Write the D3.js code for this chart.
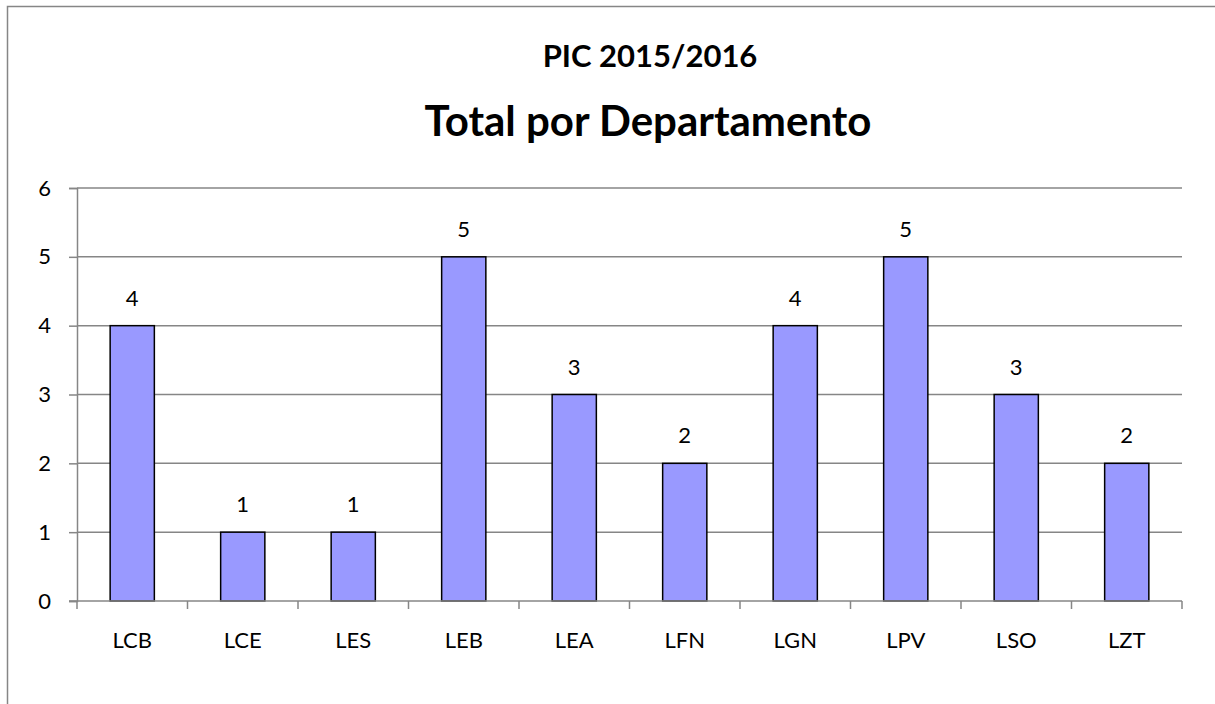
<html>
<head>
  <meta charset="UTF-8">
  <title>PIC 2015/2016</title>
  <script src="https://d3js.org/d3.v7.min.js"></script>
  <style>
    body { margin: 0; background: #fff; }
    text { font-family: Lato, "Open Sans", sans-serif; fill: #000; }
  </style>
</head>
<body>
  <svg id="chart" width="1215" height="704"></svg>

  <script>
    // data
    const departamentos = ["LCB", "LCE", "LES", "LEB", "LEA", "LFN", "LGN", "LPV", "LSO", "LZT"];
    const totais = [4, 1, 1, 5, 3, 2, 4, 5, 3, 2];
    const yTicks = [0, 1, 2, 3, 4, 5, 6];
    const titulo1 = "PIC 2015/2016";
    const titulo2 = "Total por Departamento";

    const svg = d3.select("#chart");
    const gridColor = "#868686";

    // outer frame (only top and left edges are visible)
    svg.append("rect")
        .attr("x", 7.5).attr("y", 6.5)
        .attr("width", 1400).attr("height", 900)
        .attr("fill", "none")
        .attr("stroke", gridColor)
        .attr("stroke-width", 1.5);

    const plotLeft = 77, plotRight = 1182, plotTop = 188, plotBottom = 601;

    const x = d3.scaleBand()
                .domain(departamentos)
                .range([plotLeft, plotRight])
                .paddingInner(0.6)
                .paddingOuter(0.3);

    const y = d3.scaleLinear()
                .domain([0, 6])
                .range([plotBottom, plotTop]);

    // titles
    svg.append("text")
        .attr("x", 650).attr("y", 67)
        .attr("text-anchor", "middle")
        .attr("font-weight", "bold")
        .attr("font-size", 31)
        .text(titulo1);

    svg.append("text")
        .attr("x", 648).attr("y", 136)
        .attr("text-anchor", "middle")
        .attr("font-weight", "bold")
        .attr("font-size", 42)
        .text(titulo2);

    // gridlines
    svg.append("g")
        .selectAll("line")
        .data(yTicks.filter(d => d > 0))
        .join("line")
        .attr("x1", plotLeft).attr("x2", plotRight)
        .attr("y1", d => y(d)).attr("y2", d => y(d))
        .attr("stroke", gridColor)
        .attr("stroke-width", 1.5);

    // y axis
    const yAxis = svg.append("g")
        .attr("transform", `translate(${plotLeft},0)`)
        .call(d3.axisLeft(y).tickValues(yTicks).tickSize(8).tickPadding(18).tickFormat(d3.format("d")));
    yAxis.select(".domain").attr("stroke", gridColor).attr("stroke-width", 1.5);
    yAxis.selectAll(".tick line").attr("stroke", gridColor).attr("stroke-width", 1.5);
    yAxis.selectAll(".tick text").attr("font-size", 22).attr("font-family", "Lato, sans-serif").attr("fill", "#000");

    // bars
    svg.append("g")
        .selectAll("rect")
        .data(totais)
        .join("rect")
        .attr("x", (d, i) => x(departamentos[i]))
        .attr("y", d => y(d))
        .attr("width", x.bandwidth())
        .attr("height", d => y(0) - y(d))
        .attr("fill", "#9999ff")
        .attr("stroke", "#000")
        .attr("stroke-width", 1.5);

    // x axis with ticks between categories
    const step = x.step();
    const bounds = d3.range(departamentos.length + 1).map(i => plotLeft + i * step);
    const xAxis = svg.append("g");
    xAxis.append("line")
        .attr("x1", plotLeft - 8).attr("x2", plotRight)
        .attr("y1", plotBottom).attr("y2", plotBottom)
        .attr("stroke", gridColor).attr("stroke-width", 1.5);
    xAxis.selectAll("line.tick")
        .data(bounds)
        .join("line")
        .attr("class", "tick")
        .attr("x1", d => d).attr("x2", d => d)
        .attr("y1", plotBottom).attr("y2", plotBottom + 8)
        .attr("stroke", gridColor).attr("stroke-width", 1.5);
    xAxis.selectAll("text")
        .data(departamentos)
        .join("text")
        .attr("x", d => x(d) + x.bandwidth() / 2)
        .attr("y", 648)
        .attr("text-anchor", "middle")
        .attr("font-size", 22)
        .text(d => d);

    // value labels
    svg.append("g")
        .selectAll("text")
        .data(totais)
        .join("text")
        .attr("x", (d, i) => x(departamentos[i]) + x.bandwidth() / 2)
        .attr("y", d => y(d) - 20)
        .attr("text-anchor", "middle")
        .attr("font-size", 22)
        .text(d => d);
  </script>
</body>
</html>
